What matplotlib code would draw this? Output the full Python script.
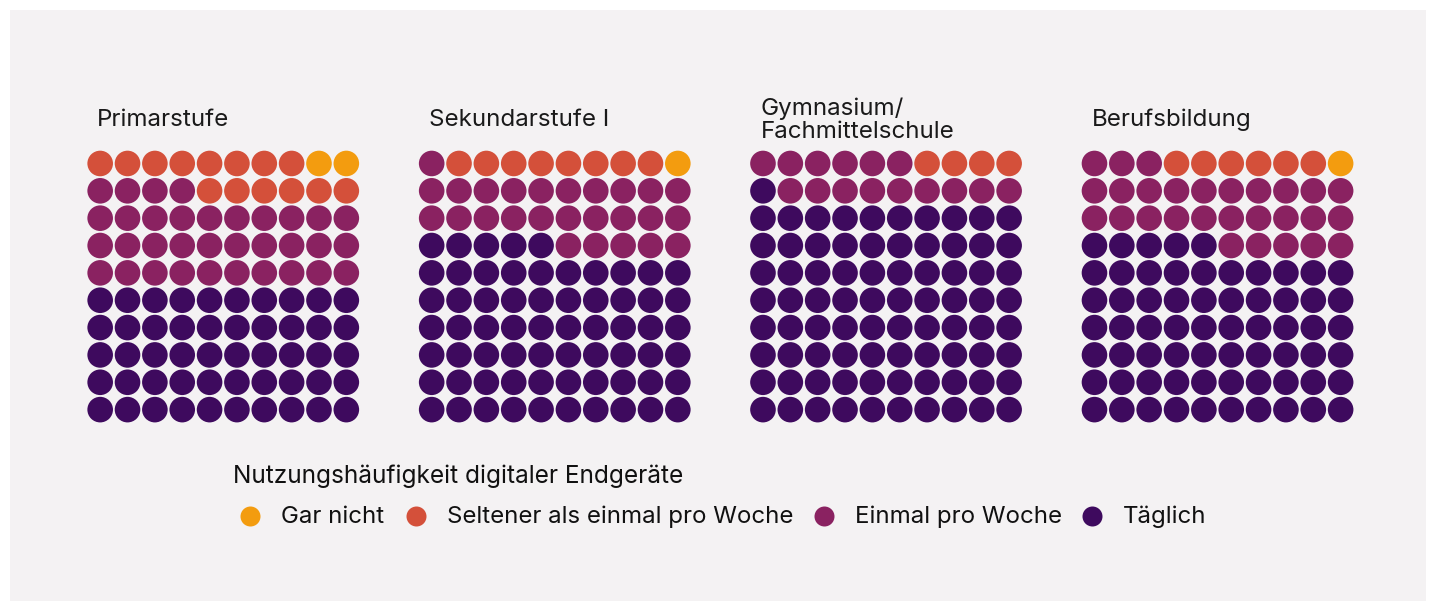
import matplotlib.pyplot as plt
from matplotlib.lines import Line2D
from matplotlib.patches import Rectangle

plt.rcParams['font.family'] = ['Inter', 'DejaVu Sans']

# data: number of cells (out of 100) per category
levels = ["Primarstufe", "Sekundarstufe I", "Gymnasium/\nFachmittelschule", "Berufsbildung"]
categories = ["Gar nicht", "Seltener als einmal pro Woche", "Einmal pro Woche", "Täglich"]
gar_nicht = [2, 1, 0, 1]
seltener = [14, 8, 4, 6]
einmal = [34, 26, 15, 28]
taeglich = [50, 65, 81, 65]
legend_title = "Nutzungshäufigkeit digitaler Endgeräte"

colors = ["#F39C0F", "#D4503A", "#8A2261", "#3E0A5E"]
bg = "#F4F2F3"

W, H = 1436, 611
fig = plt.figure(figsize=(W / 100, H / 100), dpi=100)
fig.patch.set_facecolor("white")
fig.add_artist(Rectangle((10 / W, 10 / H), 1416 / W, 591 / H,
                         transform=fig.transFigure, facecolor=bg,
                         edgecolor="none", zorder=0))

pitch = 27.35
size = pitch * 10
lefts = [86.5, 418.0, 749.3, 1080.8]
top = 149.8
title_x = [97, 429, 761, 1092]

for k in range(4):
    ax = fig.add_axes([lefts[k] / W, 1 - (top + size) / H, size / W, size / H])
    ax.set_xlim(-0.5, 9.5)
    ax.set_ylim(-0.5, 9.5)
    ax.axis("off")
    counts = [taeglich[k], einmal[k], seltener[k], gar_nicht[k]]
    cols = [colors[3], colors[2], colors[1], colors[0]]
    xs, ys, cs = [], [], []
    idx = 0
    for n, c in zip(counts, cols):
        for _ in range(n):
            xs.append(idx % 10)
            ys.append(idx // 10)
            cs.append(c)
            idx += 1
    ax.scatter(xs, ys, s=(25.6 * 0.72) ** 2, c=cs, linewidths=0)

    if "\n" in levels[k]:
        fig.text(title_x[k] / W, 1 - 138.3 / H, levels[k], fontsize=17.4,
                 color="#1a1a1a", va="baseline", linespacing=1.05)
    else:
        fig.text(title_x[k] / W, 1 - 126 / H, levels[k], fontsize=17.4,
                 color="#1a1a1a", va="baseline")

# legend
fig.text(233 / W, 1 - 483 / H, legend_title, fontsize=17.6, color="#111111",
         va="baseline")
dot_x = [250, 416, 824, 1092]
for i in range(4):
    fig.add_artist(Line2D([dot_x[i] / W], [1 - 515.7 / H], marker="o",
                          markersize=20 * 0.72, color=colors[i],
                          markeredgewidth=0, transform=fig.transFigure))
    fig.text((dot_x[i] + 31) / W, 1 - 523 / H, categories[i], fontsize=17.3,
             color="#111111", va="baseline")

fig.savefig("out.png", dpi=100)
